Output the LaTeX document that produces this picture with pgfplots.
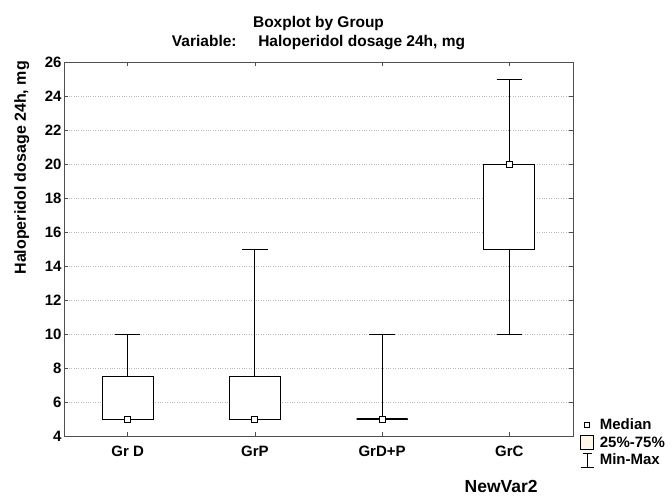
\documentclass[border=0pt]{standalone}
\usepackage{fontspec}
\setmainfont{Liberation Sans}
\usepackage{pgfplots}
\pgfplotsset{compat=1.18}
\usepgfplotslibrary{statistics}
\definecolor{Cream}{HTML}{FFF8E8}
\definecolor{AxisGray}{HTML}{505050}

\begin{document}
\begin{tikzpicture}
\path (-64pt,-59pt) rectangle (608pt,436pt);
\begin{axis}[
  scale only axis,
  width=509pt,height=374pt,
  xmin=-0.5,xmax=3.5,ymin=4,ymax=26,
  xtick={0,1,2,3},
  xticklabels={Gr D,GrP,GrD+P,GrC},
  ytick={4,6,...,26},
  tick align=inside,
  major tick length=4pt,
  tick style={AxisGray,line width=0.6pt},
  axis line style={AxisGray,line width=0.9pt},
  ymajorgrids,
  grid style={gray!55,dotted,line width=0.6pt},
  tick label style={font=\bfseries\fontsize{15}{17}\selectfont},
  /pgf/number format/assume math mode=true,
  xticklabel style={yshift=-6pt},
  yticklabel style={xshift=1pt},
  title={Boxplot by Group\\Variable:\hspace{1.4em}Haloperidol dosage 24h, mg},
  title style={font=\bfseries\fontsize{15.5}{19}\selectfont,align=center,
    at={(axis description cs:0.5,1)},anchor=south,yshift=3pt},
  xlabel={NewVar2},
  every axis x label/.style={at={(axis description cs:0.859,-0.136)},anchor=center,
    font=\bfseries\fontsize{17.5}{19}\selectfont},
  ylabel={Haloperidol dosage 24h, mg},
  every axis y label/.style={at={(axis description cs:-0.083,0.717)},rotate=90,anchor=center,
    font=\bfseries\fontsize{16}{18}\selectfont},
  boxplot/draw direction=y,
  boxplot/box extend=0.4,
  boxplot/whisker extend=0.2,
  legend style={at={(axis description cs:1.014,0.052)},anchor=north west,draw=none,fill=none,
    font=\bfseries\fontsize{15}{17}\selectfont,row sep=1.5pt,
    inner sep=0pt},
  legend cell align=left,
  clip=false
]
% boxes: min, 25%, median, 75%, max
\addplot+[forget plot,black,line width=0.9pt,solid,fill=white,mark=none,
  boxplot prepared={lower whisker=5,lower quartile=5,median=5,upper quartile=7.5,upper whisker=10,draw position=0}]
  coordinates {};
\addplot+[forget plot,black,line width=0.9pt,solid,fill=white,mark=none,
  boxplot prepared={lower whisker=5,lower quartile=5,median=5,upper quartile=7.5,upper whisker=15,draw position=1}]
  coordinates {};
\addplot+[forget plot,black,line width=0.9pt,solid,fill=white,mark=none,
  boxplot prepared={lower whisker=5,lower quartile=5,median=5,upper quartile=5,upper whisker=10,draw position=2,
    every box/.style={line width=2.2pt}}]
  coordinates {};
\addplot+[forget plot,black,line width=0.9pt,solid,fill=white,mark=none,
  boxplot prepared={lower whisker=10,lower quartile=15,median=20,upper quartile=20,upper whisker=25,draw position=3}]
  coordinates {};
% medians
\addplot[forget plot,only marks,mark=square*,mark size=3pt,mark options={fill=white,draw=black,line width=0.8pt}]
  coordinates {(0,5)(1,5)(2,5)(3,20)};
% legend
\addlegendimage{legend image code/.code={\draw[black,fill=white,line width=0.6pt] (4pt,-2.5pt) rectangle (9pt,2.5pt);
  \path (0,0) (17pt,0);}}
\addlegendentry{Median}
\addlegendimage{legend image code/.code={\draw[black,fill=Cream,line width=0.6pt] (0pt,-7pt) rectangle (13pt,7pt);
  \path (17pt,0);}}
\addlegendentry{25\%-75\%}
\addlegendimage{legend image code/.code={\draw[black,line width=0.6pt] (0pt,-7pt) -- (13pt,-7pt) (6.5pt,-7pt) -- (6.5pt,7pt) (2pt,7pt) -- (11pt,7pt);
  \path (17pt,0);}}
\addlegendentry{Min-Max}
\end{axis}
\end{tikzpicture}
\end{document}
